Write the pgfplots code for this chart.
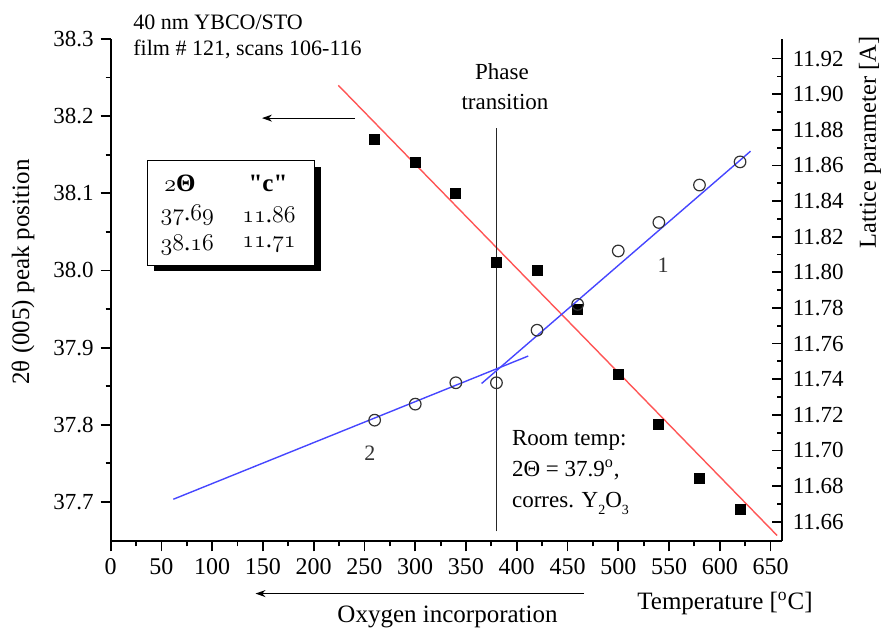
\documentclass[border=0pt]{standalone}
\usepackage{fontspec}
\setmainfont{Liberation Serif}
\newfontfamily\rawserif{Liberation Serif}
\usepackage{pgfplots}
\pgfplotsset{compat=1.18}
\usetikzlibrary{arrows.meta,calc}
\definecolor{fitred}{RGB}{255,85,85}
\definecolor{fitblue}{RGB}{70,70,255}
\newcommand{\fs}[1]{\fontsize{#1}{#1}\selectfont}
\newcommand{\osn}[1]{{\usefont{OML}{lmm}{m}{it}#1}}
\newcommand{\osnb}[1]{{\usefont{OML}{lmm}{b}{it}#1}}
\begin{document}
\begin{tikzpicture}
\pgfplotsset{
  common/.style={scale only axis, width=335.5pt, height=251.15pt, xmin=0, xmax=661, clip=false,
    axis line style={line width=0.9pt,-}, major tick length=5pt, minor tick length=2.5pt,
    every tick/.append style={line width=0.9pt, black},
    /pgf/number format/assume math mode=true,
    tick label style={font=\fs{11.5}},
  }
}
\begin{axis}[common, name=ax, axis x line*=bottom, axis y line*=left, tick align=outside,
  ymin=37.649, ymax=38.3,
  xtick={0,50,100,150,200,250,300,350,400,450,500,550,600,650}, minor x tick num=1,
  ytick={37.7,37.8,37.9,38.0,38.1,38.2,38.3}, minor y tick num=1,
  yticklabel style={/pgf/number format/fixed, /pgf/number format/fixed zerofill, /pgf/number format/precision=1},
  xticklabel style={font=\fs{12}},
]
% table box with shadow
\fill[black] (rel axis cs:0.0642,0.7458) rectangle (rel axis cs:0.3131,0.5381);
\filldraw[fill=white, draw=black, line width=0.5pt] (rel axis cs:0.0545,0.7577) rectangle (rel axis cs:0.3034,0.5500);
\node[font=\fs{12.5}\bfseries, inner sep=0] at (rel axis cs:0.1033,0.7127) {\osnb{2}Θ};
\node[font=\fs{12.5}\rawserif\bfseries, inner sep=0] at (rel axis cs:0.2344,0.7133) {"c"};
\node[font=\fs{12.5}, inner sep=0] at (rel axis cs:0.1142,0.6495) {\osn{37}.\osn{69}};
\node[font=\fs{12.5}, inner sep=0] at (rel axis cs:0.2359,0.6495) {\osn{11}.\osn{86}};
\node[font=\fs{12.5}, inner sep=0] at (rel axis cs:0.1142,0.5899) {\osn{38}.\osn{16}};
\node[font=\fs{12.5}, inner sep=0] at (rel axis cs:0.2359,0.5899) {\osn{11}.\osn{71}};

\addplot[only marks, mark=square*, mark size=2.5pt, black] coordinates {
  (260,38.17) (300,38.14) (340,38.10) (380,38.01) (420,38.00)
  (460,37.95) (500,37.865) (540,37.80) (580,37.73) (620,37.69)};
\addplot[fitred, line width=0.7pt] coordinates {(224.2,38.240) (656.5,37.6565)};
\addplot[black!85, line width=0.7pt] coordinates {(380,37.662) (380,38.184)};

\draw[-{Stealth[length=5pt,width=3.5pt]}, line width=0.6pt] (rel axis cs:0.3641,0.8425) -- (rel axis cs:0.2255,0.8425);
\draw[-{Stealth[length=5pt,width=3.5pt]}, line width=0.6pt] (rel axis cs:0.7055,-0.1041) -- (rel axis cs:0.2158,-0.1041);

\node[font=\fs{11}, anchor=west, inner sep=0] at (rel axis cs:0.0332,1.0325) {40 nm YBCO/STO};
\node[font=\fs{11}, anchor=west, inner sep=0] at (rel axis cs:0.0332,0.9800) {film \# 121, scans 106-116};
\node[font=\fs{11.5}, inner sep=0] at (rel axis cs:0.583,0.9349) {Phase};
\node[font=\fs{11.5}, inner sep=0] at (rel axis cs:0.5876,0.8749) {transition};
\node[font=\fs{11.5}, anchor=west, inner sep=0] at (rel axis cs:0.5976,0.2017) {Room temp:};
\node[font=\fs{11.5}, anchor=west, inner sep=0] at (rel axis cs:0.5976,0.1419) {2Θ = 37.9\textsuperscript{o},};
\node[font=\fs{11.5}, anchor=west, inner sep=0] at (rel axis cs:0.5976,0.0762) {corres. Y\raisebox{-3.5pt}{\fs{7}2}O\raisebox{-3.5pt}{\fs{7}3}};
\node[font=\fs{11}, text=black!80, inner sep=0] at (rel axis cs:0.8232,0.5504) {1};
\node[font=\fs{11}, text=black!80, inner sep=0] at (rel axis cs:0.3864,0.1758) {2};
\node[font=\fs{12.5}, inner sep=0] at (rel axis cs:0.502,-0.1501) {Oxygen incorporation};
\node[font=\fs{12.5}, inner sep=0] at (rel axis cs:0.9155,-0.1235) {Temperature [\textsuperscript{o}C]};
\node[font=\fs{12.5}, rotate=90, inner sep=0] at (rel axis cs:-0.1307,0.5361) {2θ (005) peak position};
\end{axis}

\begin{axis}[common, axis y line*=right, axis x line=none, xtick=\empty, tick align=inside,
  ymin=11.649, ymax=11.931,
  ytick={11.66,11.68,11.70,11.72,11.74,11.76,11.78,11.80,11.82,11.84,11.86,11.88,11.90,11.92},
  minor y tick num=1,
  yticklabel style={/pgf/number format/fixed, /pgf/number format/fixed zerofill, /pgf/number format/precision=2, xshift=2pt},
]
\addplot[only marks, mark=o, mark size=2.9pt, mark options={line width=0.6pt, draw=black!80}] coordinates {
  (260,11.717) (300,11.726) (340,11.738) (380,11.738) (420,11.7675)
  (460,11.782) (500,11.812) (540,11.828) (580,11.849) (620,11.862)};
\addplot[fitblue, line width=0.7pt] coordinates {(365.4,11.7376) (630.3,11.868)};
\addplot[fitblue, line width=0.7pt] coordinates {(61.7,11.6726) (411.3,11.753)};
\node[font=\fs{12.2}, rotate=90, inner sep=0] at (rel axis cs:1.1316,0.794) {Lattice parameter [A]};
\end{axis}

\pgfresetboundingbox
\path ($(ax.south west)+(-55.35pt,-44.85pt)$) rectangle ($(ax.north east)+(50.15pt,19.5pt)$);
\end{tikzpicture}
\end{document}
